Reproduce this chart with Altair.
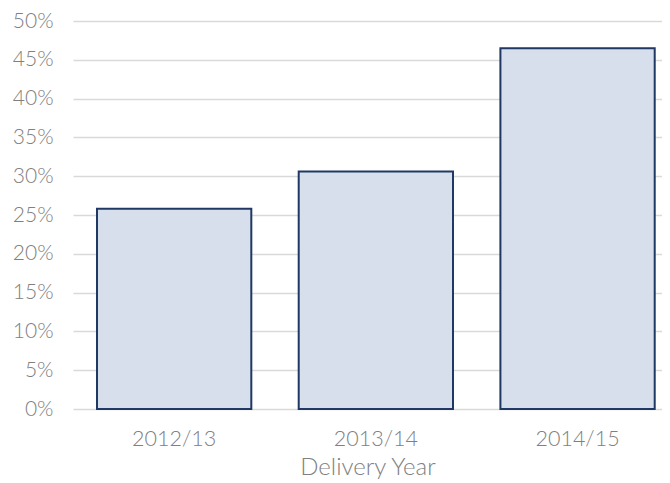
import altair as alt
import pandas as pd

years = ["2012/13", "2013/14", "2014/15"]
shares = [0.258, 0.306, 0.465]

df = pd.DataFrame({"year": years, "share": shares})

chart = alt.Chart(df).mark_bar(
    color="#d6dfeb", stroke="#1f3864", strokeWidth=2
).encode(
    x=alt.X("year:N", sort=years,
            scale=alt.Scale(paddingInner=0.235, paddingOuter=0.0776, align=0.767),
            axis=alt.Axis(title="Delivery Year", labelAngle=0, ticks=False, domain=False,
                          labelFontSize=21.5, labelColor="#808080", labelPadding=19,
                          labelFontWeight=300, titleFontWeight=300,
                          titleFontSize=24, titleColor="#808080",
                          titlePadding=6, labelFont="Lato", titleFont="Lato")),
    y=alt.Y("share:Q", scale=alt.Scale(domain=[0, 0.5]),
            axis=alt.Axis(format=".0%", values=[i * 0.05 for i in range(11)], title=None,
                          ticks=False, domain=False, labelFontSize=21, labelColor="#808080",
                          labelFontWeight=300,
                          labelPadding=20, gridColor="#d9d9d9", gridWidth=1.5,
                          labelFont="Lato")),
).properties(
    width=589, height=388,
    autosize=alt.AutoSizeParams(type="none"),
    padding={"left": 65, "top": 13, "right": 0, "bottom": 74},
).configure_view(stroke=None)

chart.save("out.html", embed_options={"renderer": "svg", "actions": False})
